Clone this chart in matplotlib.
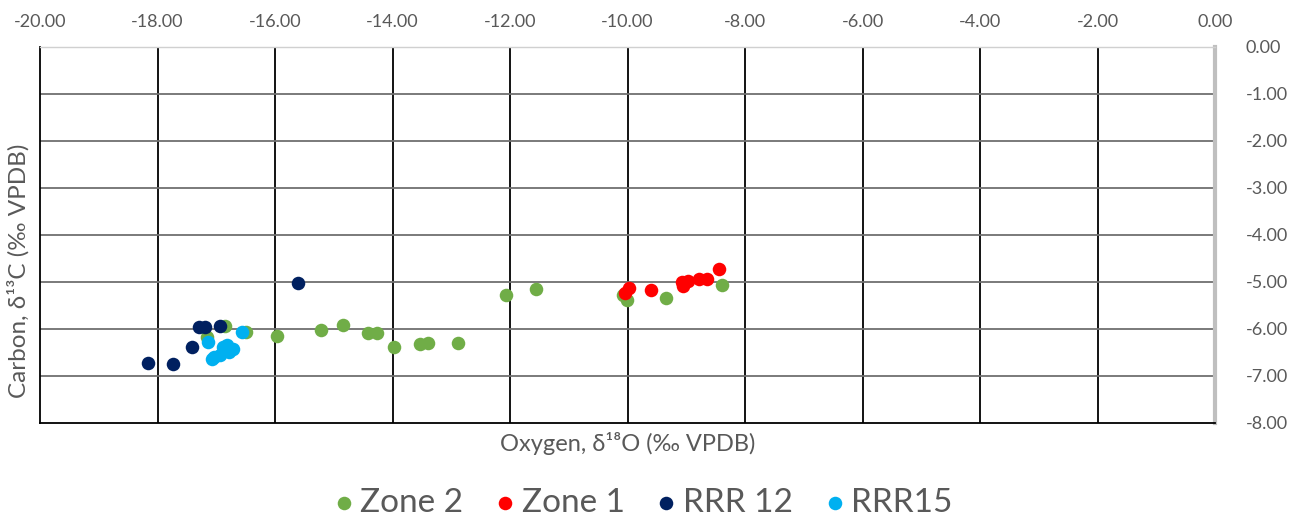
import matplotlib
matplotlib.use("Agg")
import matplotlib.pyplot as plt
from matplotlib.ticker import FormatStrFormatter

plt.rcParams['font.family'] = ['Lato', 'Open Sans', 'DejaVu Sans']

# Zone 2 (green)
zone2_x = [-16.85, -17.16, -16.50, -15.97, -15.21, -14.84, -14.42, -14.26, -13.97,
           -13.53, -13.40, -12.89, -12.07, -11.55, -10.08, -10.01, -9.34, -8.40]
zone2_y = [-5.94, -6.17, -6.08, -6.15, -6.02, -5.93, -6.09, -6.10, -6.40,
           -6.33, -6.31, -6.31, -5.28, -5.16, -5.28, -5.39, -5.34, -5.07]
# Zone 1 (red)
zone1_x = [-10.05, -9.97, -9.60, -9.08, -9.05, -8.97, -8.78, -8.65, -8.44]
zone1_y = [-5.24, -5.14, -5.17, -5.01, -5.10, -4.98, -4.95, -4.95, -4.74]
# RRR 12 (navy)
rrr12_x = [-15.61, -17.29, -17.20, -16.94, -17.41, -18.16, -17.73]
rrr12_y = [-5.02, -5.97, -5.97, -5.94, -6.40, -6.72, -6.75]
# RRR15 (light blue)
rrr15_x = [-17.14, -16.57, -16.81, -16.71, -17.04, -16.93, -16.78, -17.07, -16.88]
rrr15_y = [-6.28, -6.08, -6.35, -6.43, -6.61, -6.56, -6.49, -6.65, -6.38]

fig = plt.figure(figsize=(12.96, 5.21), dpi=100)
ax = fig.add_axes([0.0309, 0.1887, 0.9066, 0.7217])

s = 95
ax.scatter(zone2_x, zone2_y, s=s, color='#70AD47', label='Zone 2', zorder=3, linewidths=0)
ax.scatter(zone1_x, zone1_y, s=s, color='#FF0000', label='Zone 1', zorder=3, linewidths=0)
ax.scatter(rrr12_x, rrr12_y, s=s, color='#002060', label='RRR 12', zorder=4, linewidths=0)
ax.scatter(rrr15_x, rrr15_y, s=s, color='#00B0F0', label='RRR15', zorder=4, linewidths=0)

ax.set_xlim(-20, 0)
ax.set_ylim(-8, 0)
ax.set_xticks(range(-20, 1, 2))
ax.set_yticks(range(-8, 1, 1))
ax.xaxis.set_major_formatter(FormatStrFormatter('%.2f'))
ax.yaxis.set_major_formatter(FormatStrFormatter('%.2f'))
ax.xaxis.tick_top()
ax.yaxis.tick_right()
ax.tick_params(length=0, labelsize=13, colors='#595959', pad=12)
ax.tick_params(axis='y', pad=22)

# gridlines
for v in range(-18, 0, 2):
    ax.axvline(v, color='black', lw=1.3, zorder=1)
for v in range(-7, 0):
    ax.axhline(v, color='#707070', lw=1.3, zorder=1)

ax.spines['left'].set_color('black')
ax.spines['left'].set_linewidth(1.3)
ax.spines['bottom'].set_color('black')
ax.spines['bottom'].set_linewidth(1.3)
ax.spines['top'].set_color('#d0d0d0')
ax.spines['top'].set_linewidth(1.0)
ax.spines['right'].set_color('#bfbfbf')
ax.spines['right'].set_linewidth(3)

fig.text(0.484, 0.148, 'Oxygen, δ¹⁸O (‰ VPDB)', ha='center', va='center',
         fontsize=17, color='#595959')
fig.text(0.014, 0.48, 'Carbon, δ¹³C (‰ VPDB)', ha='center', va='center',
         fontsize=17.5, color='#595959', rotation=90)

fig.legend(loc='center', bbox_to_anchor=(0.497, 0.035), ncol=4, frameon=False,
           fontsize=24, handlelength=0.5, handletextpad=0.25, columnspacing=1.0,
           labelcolor='#595959')

plt.savefig('out.png', dpi=100)
